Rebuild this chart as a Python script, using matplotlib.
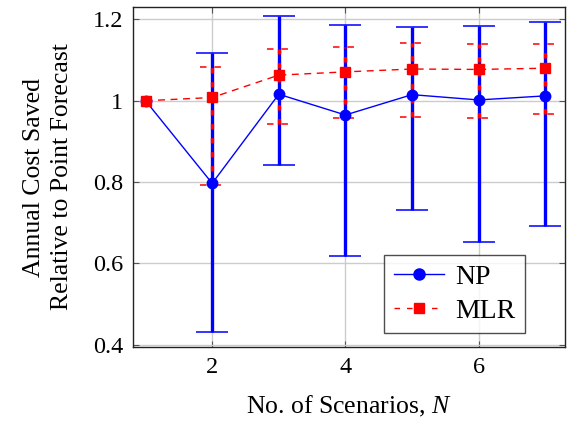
import matplotlib.pyplot as plt
import numpy as np

# Values
scenarios = [1, 2, 3, 4, 5, 6, 7]

np_mean = [1.0, 0.797, 1.016, 0.965, 1.015, 1.002, 1.012]
np_upper = [1.0, 1.118, 1.209, 1.186, 1.182, 1.184, 1.193]
np_lower = [1.0, 0.432, 0.842, 0.618, 0.731, 0.654, 0.693]

mlr_mean = [1.0, 1.008, 1.063, 1.071, 1.078, 1.077, 1.080]
mlr_upper = [1.0, 1.083, 1.126, 1.133, 1.141, 1.139, 1.139]
mlr_lower = [1.0, 0.792, 0.942, 0.958, 0.961, 0.958, 0.967]

y_ticks = [0.4, 0.6, 0.8, 1.0, 1.2]
y_tick_labels = ['0.4', '0.6', '0.8', '1', '1.2']
x_ticks = [2, 4, 6]

plt.rcParams['font.family'] = ['Liberation Serif', 'DejaVu Serif']
plt.rcParams['mathtext.fontset'] = 'custom'
plt.rcParams['mathtext.rm'] = 'Liberation Serif'
plt.rcParams['mathtext.it'] = 'Liberation Serif:italic'

fig = plt.figure(figsize=(5.68, 4.23), dpi=100)
ax = fig.add_axes([0.234, 0.180, 0.761, 0.803])

x = np.array(scenarios)


def draw_bars(lower, upper, color, bar_ls, cap_ls, cap_half, zorder):
    lower = np.array(lower)
    upper = np.array(upper)
    has = upper > lower
    ax.vlines(x[has], lower[has], upper[has], colors=color, linewidth=2.4,
              linestyles=bar_ls, zorder=zorder)
    for yy in (lower, upper):
        ax.hlines(yy[has], x[has] - cap_half, x[has] + cap_half, colors=color,
                  linewidth=1.3, linestyles=cap_ls, alpha=0.85, zorder=zorder)


# NP error bars, then MLR on top
draw_bars(np_lower, np_upper, 'blue', 'solid', 'solid', 0.24, 3)
draw_bars(mlr_lower, mlr_upper, 'red', (0, (1.6, 2.6)), (0, (3.6, 4.4)), 0.18, 4)

ax.plot(x, np_mean, '-', color='blue', linewidth=1.0, zorder=5)
ax.plot(x, mlr_mean, '--', color='red', linewidth=1.0, dashes=(5, 4), zorder=5)
ax.plot(x, np_mean, 'o', color='blue', markersize=7.5, zorder=6)
ax.plot(x, mlr_mean, 's', color='red', markersize=7, zorder=6)

# legend proxies
np_handle, = ax.plot([], [], '-o', color='blue', linewidth=1.0, markersize=8,
                     label='NP')
mlr_handle, = ax.plot([], [], '--s', color='red', linewidth=1.0, markersize=7.5,
                      dashes=(4, 5), label='MLR')

ax.set_xlim(0.81, 7.3)
ax.set_ylim(0.395, 1.23)
ax.set_xticks(x_ticks)
ax.set_yticks(y_ticks)
ax.set_yticklabels(y_tick_labels)
ax.tick_params(direction='in', top=True, right=True, labelsize=17.5,
               length=4, color='#555555', pad=7)
ax.grid(True, color='#cccccc', linewidth=1.0)
ax.set_axisbelow(True)
for s in ax.spines.values():
    s.set_linewidth(1.0)
    s.set_color('#222222')

ax.set_xlabel('No. of Scenarios, $N$', fontsize=18.5, labelpad=12)
ax.set_ylabel('Annual Cost Saved\nRelative to Point Forecast', fontsize=18.5,
              labelpad=14, linespacing=1.35)

leg = ax.legend(handles=[np_handle, mlr_handle], loc='lower right',
                bbox_to_anchor=(0.907, 0.04), fontsize=20, frameon=True,
                fancybox=False, edgecolor='#222222', handlelength=1.8,
                handletextpad=0.4, borderpad=0.35, labelspacing=0.3,
                borderaxespad=0.0)
leg.get_frame().set_linewidth(1.0)

fig.savefig('out.png', dpi=100)
